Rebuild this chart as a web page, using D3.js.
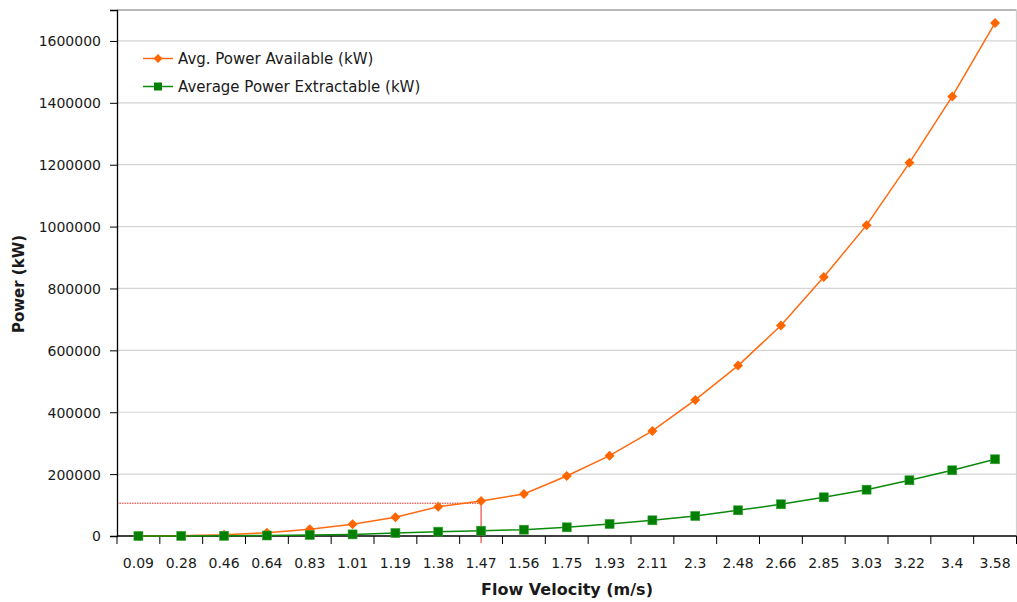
<!DOCTYPE html>
<html><head><meta charset="utf-8">
<script src="https://cdn.jsdelivr.net/npm/d3@7"></script>
<style>
html,body{margin:0;padding:0;background:#fff;}
text{font-family:"DejaVu Sans",Verdana,sans-serif;fill:#1a1a1a;}
</style></head>
<body>
<svg id="chart" width="1017" height="602"></svg>
<script>
const categories = ["0.09","0.28","0.46","0.64","0.83","1.01","1.19","1.38","1.47","1.56","1.75","1.93","2.11","2.3","2.48","2.66","2.85","3.03","3.22","3.4","3.58"];
const availablePower = [30,1000,4300,10700,21600,37800,60500,94700,113000,136000,194000,259700,339500,439800,550700,680000,837000,1004700,1206000,1420500,1658000];
const extractablePower = [5,150,650,1600,3200,5200,9700,14000,17100,20400,28100,38800,50700,64700,83100,102500,125100,149700,180100,212400,248000];
const yTicks = [0,200000,400000,600000,800000,1000000,1200000,1400000,1600000];
const seriesNames = ["Avg. Power Available (kW)","Average Power Extractable (kW)"];
const refValue = 106000;
const refCategory = "1.47";

const svg = d3.select("#chart");
const m = {left:117, right:1016.5, top:10, bottom:536};

const x = d3.scaleBand().domain(categories).range([m.left, m.right]).padding(0);
const y = d3.scaleLinear().domain([0,1700000]).range([m.bottom, m.top]);
const cx = c => x(c) + x.bandwidth()/2;

// gridlines
svg.append("g").selectAll("line").data(yTicks.filter(d=>d>0)).join("line")
  .attr("x1", m.left).attr("x2", m.right)
  .attr("y1", d=>y(d)).attr("y2", d=>y(d))
  .attr("stroke","#d4d4d4").attr("stroke-width",1.2);

// frame top/right
svg.append("line").attr("x1",m.left).attr("x2",m.right).attr("y1",m.top).attr("y2",m.top)
  .attr("stroke","#a0a0a0").attr("stroke-width",1.5);
svg.append("line").attr("x1",m.right).attr("x2",m.right).attr("y1",m.top).attr("y2",m.bottom)
  .attr("stroke","#d0d0d0").attr("stroke-width",1.2);

// reference dotted lines
svg.append("line").attr("x1",m.left).attr("x2",cx(refCategory))
  .attr("y1",y(refValue)).attr("y2",y(refValue))
  .attr("stroke","#e8251f").attr("stroke-width",1).attr("stroke-dasharray","1.5,1");
svg.append("line").attr("x1",cx(refCategory)).attr("x2",cx(refCategory))
  .attr("y1",y(refValue)).attr("y2",m.bottom+7)
  .attr("stroke","#e8251f").attr("stroke-width",1);

// axes
const yAxis = d3.axisLeft(y).tickValues(yTicks).tickSize(7).tickPadding(9).tickFormat(d3.format("d"));
const gy = svg.append("g").attr("transform",`translate(${m.left},0)`).call(yAxis);
gy.select(".domain").attr("stroke","#000").attr("stroke-width",1.3);
gy.selectAll(".tick line").attr("stroke","#000");
gy.selectAll(".tick text").style("font-size","14px").attr("fill","#1a1a1a").attr("dy","0.35em");

const gx = svg.append("g").attr("transform",`translate(0,${m.bottom})`);
gx.append("line").attr("x1",m.left).attr("x2",m.right).attr("stroke","#000").attr("stroke-width",1.3);
const bounds = categories.map(c=>x(c)).concat([m.right]);
gx.selectAll("line.tk").data(bounds).join("line").attr("class","tk")
  .attr("x1",d=>d).attr("x2",d=>d).attr("y1",0).attr("y2",8).attr("stroke","#000");
gx.selectAll("text").data(categories).join("text")
  .attr("x",d=>cx(d)).attr("y",32).attr("text-anchor","middle")
  .style("font-size","14px").text(d=>d);

// axis titles
svg.append("text").attr("x",567).attr("y",595).attr("text-anchor","middle")
  .style("font-size","16px").style("font-weight","bold").text("Flow Velocity (m/s)");
svg.append("text").attr("transform","translate(24,284) rotate(-90)").attr("text-anchor","middle")
  .style("font-size","15px").style("font-weight","bold").text("Power (kW)");

// lines
const lineGen = d3.line().x((d,i)=>cx(categories[i])).y(d=>y(d));
svg.append("path").datum(availablePower).attr("d",lineGen)
  .attr("fill","none").attr("stroke","#ff6a10").attr("stroke-width",1.5);
svg.append("path").datum(extractablePower).attr("d",lineGen)
  .attr("fill","none").attr("stroke","#0a8a0a").attr("stroke-width",1.5);

// markers
svg.append("g").selectAll("path").data(availablePower).join("path")
  .attr("transform",(d,i)=>`translate(${cx(categories[i])},${y(d)})`)
  .attr("d","M0,-5L5,0L0,5L-5,0Z").attr("fill","#ff6600");
svg.append("g").selectAll("rect").data(extractablePower).join("rect")
  .attr("x",(d,i)=>cx(categories[i])-4.5).attr("y",d=>y(d)-4.5)
  .attr("width",9).attr("height",9).attr("fill","#007f00").attr("stroke","#3aa03a").attr("stroke-width",0.6);

// legend
const lg = svg.append("g");
[[58.5,"#ff6a10","diamond"],[86.5,"#0a8a0a","square"]].forEach(([ly,col,shape],i)=>{
  lg.append("line").attr("x1",143).attr("x2",173).attr("y1",ly).attr("y2",ly)
    .attr("stroke",col).attr("stroke-width",1.5);
  if(shape==="diamond"){
    lg.append("path").attr("transform",`translate(158,${ly})`).attr("d","M0,-4.5L4.5,0L0,4.5L-4.5,0Z").attr("fill","#ff6600");
  } else {
    lg.append("rect").attr("x",154).attr("y",ly-4).attr("width",8).attr("height",8).attr("fill","#007f00");
  }
  lg.append("text").attr("x",178).attr("y",ly+5).style("font-size","15px").text(seriesNames[i]);
});
</script>
</body></html>
